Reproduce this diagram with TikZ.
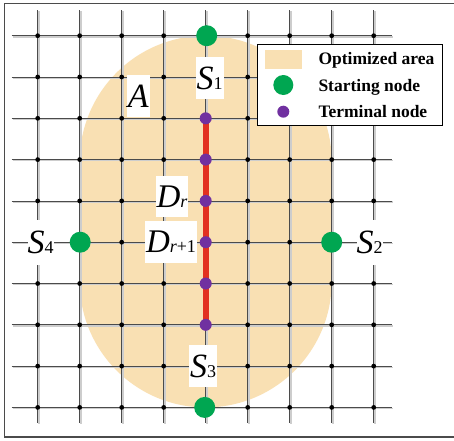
\documentclass[tikz,border=0pt]{standalone}
\usepackage{fontspec}
\setmainfont{Liberation Serif}
\definecolor{peach}{RGB}{249,224,179}
\definecolor{startgreen}{RGB}{0,166,81}
\definecolor{termpurple}{RGB}{112,48,160}
\definecolor{pathred}{RGB}{226,49,32}
\definecolor{gridgray}{RGB}{75,75,75}
\definecolor{shadowgray}{RGB}{205,205,205}
\newcommand\SLab[1]{{\fontsize{34}{34}\selectfont\itshape S}{\fontsize{18}{18}\selectfont #1}}
\newcommand\DLab[1]{{\fontsize{33}{33}\selectfont\itshape D}{\fontsize{18}{18}\selectfont #1}}
\tikzset{
  framestyle/.style={draw=gridgray,line width=1.1pt},
  gshadow/.style={draw=shadowgray,line width=1.4pt},
  gline/.style={draw=gridgray,line width=0.7pt},
  gdot/.style={circle,fill=black,inner sep=0pt,minimum size=4.8pt},
  startnode/.style={circle,fill=startgreen,inner sep=0pt,minimum size=21pt},
  termnode/.style={circle,fill=termpurple,inner sep=0pt,minimum size=12pt},
  redpath/.style={draw=pathred,line width=6pt},
  lbl/.style={fill=white,inner xsep=1pt,inner ysep=0pt,minimum height=42pt},
  legtext/.style={anchor=base west,inner sep=0pt,font=\fontsize{17.5}{20}\selectfont\bfseries},
}
\begin{document}
\begin{tikzpicture}[x=1pt,y=-1pt]
\useasboundingbox (0,0) rectangle (454,440);
\fill[white] (0,0) rectangle (454,440);
\draw[framestyle] (454,3.3) -- (4.3,3.3) -- (4.3,437) -- (454,437);
% optimized area
\fill[peach] (79.7,161.7) arc[start angle=180,end angle=360,radius=126] -- (331.7,281.4) arc[start angle=0,end angle=180,radius=126] -- cycle;
% grid shadows
\foreach \j in {0,...,9}{
  \draw[gshadow] (12.7,35.7+41.3*\j+1.1) -- (392.7,35.7+41.3*\j+1.1);
}
\foreach \i in {0,...,8}{
  \draw[gshadow] (37.7+42*\i+1.1,11) -- (37.7+42*\i+1.1,424.3);
}
% grid lines
\foreach \j in {0,...,9}{
  \draw[gline] (11.7,35.7+41.3*\j) -- (391.7,35.7+41.3*\j);
}
\foreach \i in {0,...,8}{
  \draw[gline] (37.7+42*\i,10) -- (37.7+42*\i,423.3);
}
% grid dots
\foreach \i in {0,1,2,3,5,6,7,8}{
  \foreach \j in {0,...,9}{
    \node[gdot] (g-\i-\j) at (37.7+42*\i,35.7+41.3*\j) {};
  }
}
% path
\coordinate (ptop) at (205.7,118.3);
\coordinate (pbot) at (205.7,324.8);
\draw[redpath] (ptop) -- (pbot);
\foreach \j in {2,...,7}{
  \node[termnode] (t\j) at (205.7,35.7+41.3*\j) {};
}
% starting nodes
\node[startnode] (s1n) at (206.7,35.7) {};
\node[startnode] (s2n) at (331.7,242.2) {};
\node[startnode] (s3n) at (204.7,407.4) {};
\node[startnode] (s4n) at (80.2,242.2) {};
% labels
\node[lbl] (s1l) at (209.5,78) {\SLab{1}};
\node[lbl] (s3l) at (203,366.1) {\SLab{3}};
\node[lbl,minimum height=45pt,inner xsep=0pt] (s4l) at (40.5,242.2) {\SLab{4}};
\node[lbl,minimum height=45pt,inner xsep=0pt] (s2l) at (369.5,242.2) {\SLab{2}};
\node[lbl] (al) at (138.3,96) {{\fontsize{34}{34}\selectfont\itshape A}};
\node[lbl,minimum height=41pt] (drl) at (172,196.4) {\DLab{\itshape r}};
\node[lbl] (dr1l) at (171,242) {\DLab{{\itshape r}+1}};
% legend
\node[draw=black,line width=0.9pt,fill=white,minimum width=185.4pt,minimum height=81pt,inner sep=0pt] (legend) at (350,84.5) {};
\node[fill=peach,minimum width=37.3pt,minimum height=19pt,inner sep=0pt] (legarea) at (283.7,59.5) {};
\node[startnode,minimum size=20pt] (legstart) at (283.3,85) {};
\node[termnode] (legterm) at (283.3,111.7) {};
\node[legtext] (lt1) at (318.3,64.3) {Optimized area};
\node[legtext] (lt2) at (318.3,91) {Starting node};
\node[legtext] (lt3) at (318.3,117.7) {Terminal node};
\end{tikzpicture}
\end{document}
